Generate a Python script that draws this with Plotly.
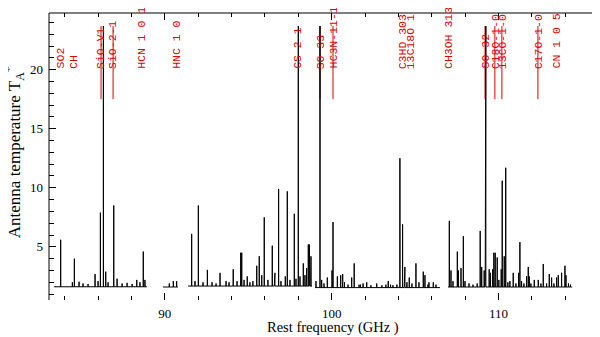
import plotly.graph_objs as go

# --- spectrum coverage (GHz) and baseline level (K) ---
seg_start = [83.36, 89.89, 91.39, 99.00, 106.97]
seg_end = [88.93, 90.79, 98.82, 106.49, 114.41]
seg_base = [1.62, 1.60, 1.68, 1.55, 1.60]

# --- line peaks: rest frequency (GHz) and peak T_A* (K) ---
peak_freq = [
    83.76, 84.46, 84.58, 84.86, 85.10, 85.40, 85.82, 86.00, 86.14, 86.32,
    86.46, 86.60, 86.94, 87.14, 87.44, 87.74, 88.04, 88.32, 88.51, 88.71,
    88.81,
    90.27, 90.51, 90.71,
    91.61, 91.81, 92.01, 92.29, 92.55, 92.83, 93.07, 93.31, 93.67, 93.85,
    94.10, 94.33, 94.55, 94.61, 94.75, 94.94, 95.10, 95.28, 95.51, 95.66,
    95.81, 95.96, 96.18, 96.44, 96.56, 96.60, 96.82, 96.96, 97.22, 97.34,
    97.50, 97.76, 97.86, 98.00, 98.10, 98.30, 98.40, 98.50, 98.60, 98.66,
    98.70, 98.76,
    99.06, 99.30, 99.40, 99.54, 99.74, 100.02, 100.08, 100.34, 100.54,
    100.66, 100.77, 100.98, 101.20, 101.35, 101.64, 101.73, 101.88, 102.10,
    102.35, 102.70, 103.01, 103.25, 103.39, 103.53, 103.67, 103.91, 104.09,
    104.25, 104.35, 104.39, 104.51, 104.65, 104.81, 105.05, 105.23, 105.49,
    105.59, 105.77, 105.83, 106.09, 106.25,
    107.05, 107.15, 107.27, 107.53, 107.59, 107.75, 107.89, 107.99, 108.23,
    108.47, 108.72, 108.90, 108.99, 109.14, 109.20, 109.24, 109.44, 109.52,
    109.65, 109.72, 109.80, 109.92, 110.02, 110.16, 110.22, 110.34, 110.43,
    110.56, 110.68, 110.88, 111.04, 111.20, 111.28, 111.38, 111.52, 111.68,
    111.78, 111.84, 111.94, 112.14, 112.38, 112.54, 112.68, 112.88, 113.04,
    113.18, 113.32, 113.48, 113.58, 113.78, 113.98, 114.04, 114.19, 114.31,
]
peak_temp = [
    5.6, 2.0, 4.0, 2.05, 1.9, 1.85, 2.7, 2.1, 7.9, 23.7,
    2.9, 2.0, 8.5, 2.3, 1.9, 1.95, 1.85, 2.2, 2.0, 4.6,
    2.2,
    1.9, 2.1, 2.1,
    6.1, 2.1, 8.5, 2.0, 3.05, 2.0, 1.9, 2.8, 2.1, 2.0,
    3.1, 2.1, 4.5, 4.5, 2.2, 2.5, 2.0, 2.1, 3.4, 4.2,
    2.6, 7.5, 2.2, 5.1, 2.6, 2.8, 9.9, 2.1, 2.5, 9.7,
    2.2, 7.8, 2.3, 23.7, 2.5, 3.6, 2.6, 3.2, 5.2, 5.2,
    4.8, 4.2,
    2.1, 23.7, 2.2, 1.9, 2.4, 3.0, 7.1, 2.5, 2.6,
    2.7, 2.0, 1.8, 2.4, 3.6, 1.8, 1.8, 1.9, 2.0,
    1.75, 1.9, 1.75, 1.8, 2.1, 1.8, 1.75, 1.8, 12.5,
    6.9, 3.0, 3.3, 2.0, 2.4, 1.9, 3.6, 2.0, 2.9,
    2.6, 1.8, 2.0, 2.0, 1.8,
    7.2, 3.0, 2.1, 4.6, 3.0, 3.2, 5.9, 2.1, 1.9,
    1.8, 1.9, 6.35, 3.3, 3.0, 10.7, 23.7, 3.1, 2.8,
    3.1, 4.5, 4.5, 4.1, 2.2, 3.1, 10.6, 4.2, 11.7,
    2.0, 2.1, 2.8, 1.9, 2.8, 5.4, 2.1, 1.9, 2.5,
    3.3, 2.5, 1.9, 2.2, 2.2, 1.9, 3.55, 1.9, 2.7,
    2.4, 1.9, 2.4, 2.6, 2.8, 3.4, 2.6, 1.9, 1.8,
]

# --- line identifications ---
label_text = [
    "SO2", "CH", "SiO-V1", "SiO-2-1", "HCN 1 0 1", "HNC 1 0", "CS 2 1",
    "SO 33", "HC3N-11-10", "C3HD 303", "13C18O 1 0", "CH3OH 313", "SO 32",
    "C18O-1-0", "13CO-1-0", "C17O-1-0", "CN 1 0 5",
]
label_freq = [
    83.72, 84.56, 86.18, 86.90, 88.63, 90.73, 97.98,
    99.30, 100.08, 104.21, 104.69, 107.04, 109.19,
    109.78, 110.20, 112.36, 113.45,
]
label_marker = [
    False, False, True, True, False, False, False,
    True, True, False, False, False, True,
    True, True, True, False,
]

LABEL_Y = 19.9
MARK_LO, MARK_HI = 17.5, 23.7

# build the stick spectrum
xs, ys = [], []
for s0, s1, b in zip(seg_start, seg_end, seg_base):
    xs.append(s0)
    ys.append(b)
    for f, t in sorted(zip(peak_freq, peak_temp)):
        if s0 <= f <= s1:
            xs += [f, f, f]
            ys += [b, t, b]
    xs += [s1, None]
    ys += [b, None]

fig = go.Figure()

# --- red identification markers ---
mx, my = [], []
for f, m in zip(label_freq, label_marker):
    if m:
        mx += [f, f, None]
        my += [MARK_LO, MARK_HI, None]
fig.add_trace(go.Scatter(x=mx, y=my, mode='lines',
                         line=dict(color='#e00000', width=1),
                         hoverinfo='skip', showlegend=False))

fig.add_trace(go.Scatter(x=xs, y=ys, mode='lines',
                         line=dict(color='black', width=1),
                         showlegend=False))

for txt, f in zip(label_text, label_freq):
    fig.add_annotation(x=f, y=LABEL_Y, xref='x', yref='y', text=txt,
                       textangle=-90, showarrow=False,
                       xanchor='center', yanchor='bottom',
                       font=dict(family='Liberation Mono', size=11.5,
                                 color='#e00000'))

# axis titles
fig.add_annotation(x=100.1, y=0, xref='x', yref='paper', yshift=-27,
                   text='Rest frequency (GHz )', showarrow=False,
                   xanchor='center', yanchor='middle',
                   font=dict(family='Liberation Serif', size=14.5, color='black'))
fig.add_annotation(x=0, y=0.515, xref='paper', yref='paper', xshift=-35,
                   text='Antenna temperature T<sub>A</sub><sup>*</sup>',
                   textangle=-90, showarrow=False,
                   xanchor='center', yanchor='middle',
                   font=dict(family='Liberation Serif', size=17, color='black'))

# frame: only top and left lines
fig.add_shape(type='line', xref='paper', yref='paper', x0=0, x1=1, y0=1, y1=1,
              line=dict(color='black', width=1))
fig.add_shape(type='line', xref='paper', yref='paper', x0=0, x1=0, y0=0, y1=1,
              line=dict(color='black', width=1))

# page body has an 8 px margin, so the figure is sized/offset to compensate
fig.update_layout(
    width=592, height=329,
    margin=dict(l=41, r=0, t=5, b=37),
    plot_bgcolor='white', paper_bgcolor='white',
    showlegend=False,
    font=dict(family='Liberation Serif', size=13, color='black'),
    xaxis=dict(
        range=[83.06, 116.08], showgrid=False, zeroline=False, showline=False,
        tickvals=[90, 100, 110], ticks='inside', ticklen=7, tickwidth=1,
        tickcolor='black', mirror='ticks', ticklabelstandoff=4,
        tickfont=dict(family='Liberation Serif', size=13),
        minor=dict(dtick=2, tick0=0, ticks='inside', ticklen=4,
                   tickcolor='black', showgrid=False),
    ),
    yaxis=dict(
        range=[0.5, 24.8], showgrid=False, zeroline=False, showline=False,
        tickvals=[5, 10, 15, 20], ticks='inside', ticklen=7, tickwidth=1,
        tickcolor='black', mirror='ticks', ticklabelstandoff=5,
        tickfont=dict(family='Liberation Serif', size=13),
        minor=dict(dtick=1, tick0=0, ticks='inside', ticklen=5,
                   tickcolor='black', showgrid=False),
    ),
)

fig.write_html("out.html")
